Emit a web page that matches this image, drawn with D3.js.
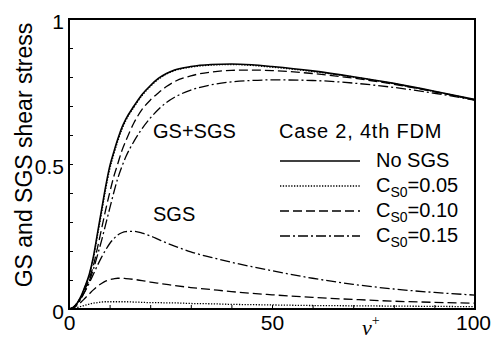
<!DOCTYPE html>
<head>
  <style>
    body { margin: 0; background: #fff; }
    svg { font-family: "Liberation Sans", Arial, sans-serif; }
    .tick text { font-size: 21px; }
    .curve { fill: none; stroke: #000; }
  </style>
</head>
<body>
<script src="https://cdn.jsdelivr.net/npm/d3@7"></script>
<script>
  // y+ grid shared by all curves
  const vPlus = [0, 1, 2, 3, 4, 5, 6, 7, 8, 9, 10, 11, 12, 13, 14, 16, 18, 20, 22, 24, 26, 30, 35, 40, 45, 50, 60, 70, 80, 90, 100];

  // GS+SGS total stress
  const totalNoSgs = [0, 0.005, 0.02, 0.045, 0.08, 0.12, 0.18, 0.26, 0.34, 0.42, 0.49, 0.54, 0.585, 0.625, 0.655, 0.70, 0.74, 0.77, 0.795, 0.812, 0.824, 0.836, 0.843, 0.845, 0.842, 0.836, 0.821, 0.801, 0.778, 0.751, 0.722];
  const total005 = [0, 0.005, 0.02, 0.044, 0.078, 0.117, 0.175, 0.252, 0.33, 0.41, 0.48, 0.532, 0.578, 0.618, 0.65, 0.696, 0.736, 0.767, 0.792, 0.81, 0.822, 0.834, 0.841, 0.843, 0.84, 0.834, 0.819, 0.8, 0.777, 0.75, 0.721];
  const total010 = [0, 0.004, 0.018, 0.04, 0.07, 0.105, 0.15, 0.21, 0.275, 0.34, 0.40, 0.455, 0.5, 0.545, 0.58, 0.642, 0.688, 0.72, 0.745, 0.767, 0.784, 0.804, 0.817, 0.823, 0.824, 0.822, 0.812, 0.796, 0.775, 0.749, 0.721];
  const total015 = [0, 0.004, 0.016, 0.036, 0.064, 0.097, 0.137, 0.185, 0.235, 0.29, 0.345, 0.4, 0.45, 0.49, 0.525, 0.578, 0.622, 0.658, 0.688, 0.712, 0.73, 0.755, 0.773, 0.783, 0.788, 0.79, 0.788, 0.779, 0.764, 0.744, 0.72];

  // SGS part
  const sgs005 = [0, 0.002, 0.005, 0.009, 0.013, 0.017, 0.02, 0.022, 0.024, 0.025, 0.025, 0.025, 0.025, 0.025, 0.025, 0.024, 0.023, 0.022, 0.022, 0.021, 0.021, 0.019, 0.018, 0.016, 0.015, 0.014, 0.012, 0.011, 0.01, 0.009, 0.008];
  const sgs010 = [0, 0.004, 0.012, 0.024, 0.038, 0.052, 0.066, 0.078, 0.088, 0.096, 0.101, 0.104, 0.106, 0.106, 0.105, 0.102, 0.098, 0.093, 0.089, 0.085, 0.081, 0.074, 0.067, 0.06, 0.054, 0.049, 0.04, 0.033, 0.027, 0.023, 0.02];
  const sgs015 = [0, 0.006, 0.02, 0.04, 0.062, 0.09, 0.12, 0.15, 0.178, 0.203, 0.225, 0.242, 0.255, 0.263, 0.267, 0.268, 0.262, 0.252, 0.24, 0.228, 0.217, 0.197, 0.178, 0.161, 0.146, 0.132, 0.106, 0.085, 0.069, 0.057, 0.048];

  const xTicks = [0, 50, 100];
  const yTicks = [0, 0.5, 1];
  const legendLabels = ["No SGS", "0.05", "0.10", "0.15"];

  const dashes = ["none", "1.3,1.5", "9,4", "10,3,2,3"];

  const margin = { top: 19, right: 17, bottom: 30, left: 69 };
  const width = 492 - margin.left - margin.right;
  const height = 339 - margin.top - margin.bottom;

  const svg = d3.select("body").append("svg")
    .attr("width", 492)
    .attr("height", 339);

  const g = svg.append("g")
    .attr("transform", `translate(${margin.left},${margin.top})`);

  const x = d3.scaleLinear().domain([0, 100]).range([0, width]);
  const y = d3.scaleLinear().domain([0, 1]).range([height, 0]);

  // minor inward ticks
  g.append("g")
    .call(d3.axisLeft(y).ticks(10).tickSize(-4).tickFormat(""))
    .call(a => a.select(".domain").remove());
  g.append("g")
    .attr("transform", `translate(0,${height})`)
    .call(d3.axisBottom(x).ticks(10).tickSize(-4).tickFormat(""))
    .call(a => a.select(".domain").remove());

  // labelled ticks
  g.append("g")
    .call(d3.axisLeft(y).tickValues(yTicks).tickSize(0).tickPadding(5).tickFormat(d3.format("")))
    .call(a => a.select(".domain").remove())
    .selectAll("text").attr("dy", "0.45em");
  g.append("g")
    .attr("transform", `translate(0,${height})`)
    .call(d3.axisBottom(x).tickValues(xTicks).tickSize(0).tickPadding(6))
    .call(a => a.select(".domain").remove())
    .selectAll("text").attr("dy", "0.72em")
    .attr("dx", d => d === 100 ? -2 : 0);
  g.selectAll(".tick text").attr("fill", "#000").style("font-family", "'Liberation Sans', Arial, sans-serif");

  const line = d3.line()
    .x((d, i) => x(vPlus[i]))
    .y(d => y(d))
    .curve(d3.curveMonotoneX);

  const totals = [totalNoSgs, total005, total010, total015];
  const sgsParts = [null, sgs005, sgs010, sgs015];

  totals.forEach((s, i) => {
    g.append("path").attr("class", "curve")
      .attr("d", line(s))
      .attr("stroke-width", i === 0 ? 1.6 : 1.3)
      .attr("stroke-dasharray", dashes[i]);
  });
  sgsParts.forEach((s, i) => {
    if (!s) return;
    g.append("path").attr("class", "curve")
      .attr("d", line(s))
      .attr("stroke-width", 1.3)
      .attr("stroke-dasharray", dashes[i]);
  });

  // frame
  g.append("rect")
    .attr("width", width).attr("height", height)
    .attr("fill", "none").attr("stroke", "#000").attr("stroke-width", 2);

  // annotations
  g.append("text").attr("x", 84).attr("y", 119).attr("font-size", 20).text("GS+SGS");
  g.append("text").attr("x", 84).attr("y", 202).attr("font-size", 20).text("SGS");
  g.append("text").attr("x", 210).attr("y", 119).attr("font-size", 20)
    .attr("letter-spacing", 0.8).text("Case 2, 4th FDM");

  // legend
  const legend = g.append("g").attr("transform", "translate(211,148)");
  legendLabels.forEach((lab, i) => {
    const row = legend.append("g").attr("transform", `translate(0,${i * 25})`);
    row.append("line")
      .attr("x1", 0).attr("x2", 80).attr("y1", -6).attr("y2", -6)
      .attr("stroke", "#000").attr("stroke-width", i === 0 ? 1.6 : 1.3)
      .attr("stroke-dasharray", dashes[i]);
    const t = row.append("text").attr("x", 96).attr("font-size", 20);
    if (i === 0) {
      t.text(lab);
    } else {
      t.append("tspan").text("C");
      t.append("tspan").attr("font-size", 14).attr("dy", 5).text("S0");
      t.append("tspan").attr("dy", -5).text("=" + lab);
    }
  });

  // axis titles
  svg.append("text")
    .attr("transform", `translate(32,${margin.top + height / 2 - 9}) rotate(-90)`)
    .attr("text-anchor", "middle")
    .attr("font-size", 23)
    .text("GS and SGS shear stress");

  const xl = svg.append("text")
    .attr("x", 362).attr("y", 335)
    .style("font-family", "'Liberation Serif', 'DejaVu Serif', serif")
    .attr("font-style", "italic")
    .attr("font-size", 22);
  xl.append("tspan").text("\u03bd");
  xl.append("tspan").attr("font-size", 14).attr("dy", -10).attr("font-style", "normal").text("+");
</script>
</body>
